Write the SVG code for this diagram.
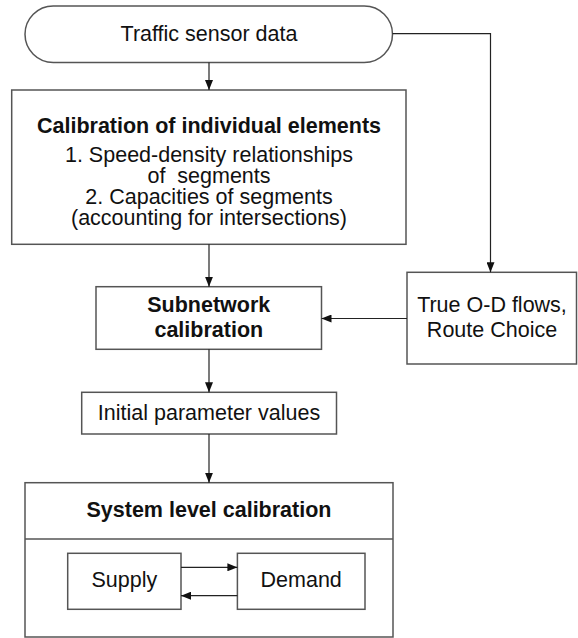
<svg xmlns="http://www.w3.org/2000/svg" width="578" height="638" viewBox="0 0 578 638">
  <style>
    .box { fill: #ffffff; stroke: #555555; stroke-width: 1.5; }
    .edge { fill: none; stroke: #222222; stroke-width: 1.2; }
    text { font-family: "Liberation Sans", Arial, sans-serif; font-size: 21.5px; fill: #111111; text-anchor: middle; }
    .b { font-weight: bold; }
  </style>
  <defs>
    <marker id="arrow" viewBox="0 0 10 8" refX="10" refY="4" markerWidth="10" markerHeight="8" markerUnits="userSpaceOnUse" orient="auto">
      <path d="M0,0 L10,4 L0,8 Z" fill="#111111"/>
    </marker>
  </defs>
  <rect width="578" height="638" fill="#ffffff"/>

  <g id="sensor-data">
    <rect class="box" x="25" y="6" width="367.5" height="56.5" rx="28.25" ry="28.25"/>
    <text x="209" y="41">Traffic sensor data</text>
  </g>

  <g id="individual-elements">
    <rect class="box" x="11.7" y="90" width="394.3" height="154.3"/>
    <text class="b" x="209" y="133">Calibration of individual elements</text>
    <text x="209" y="162">1. Speed-density relationships</text>
    <text x="209" y="183" xml:space="preserve">of  segments</text>
    <text x="209" y="204">2. Capacities of segments</text>
    <text x="209" y="225">(accounting for intersections)</text>
  </g>

  <g id="od-route">
    <rect class="box" x="407" y="272.3" width="169.5" height="91.7"/>
    <text x="492" y="311.7">True O-D flows,</text>
    <text x="492" y="336.7">Route Choice</text>
  </g>

  <g id="subnetwork">
    <rect class="box" x="96" y="286.7" width="225.5" height="62.6"/>
    <text class="b" x="208.8" y="311.7">Subnetwork</text>
    <text class="b" x="208.8" y="336.7">calibration</text>
  </g>

  <g id="initial-values">
    <rect class="box" x="81.7" y="392.3" width="254.8" height="41.7"/>
    <text x="209" y="420">Initial parameter values</text>
  </g>

  <g id="system-level">
    <rect class="box" x="25" y="482.7" width="368" height="154.3"/>
    <line class="box" x1="25" y1="539" x2="393" y2="539"/>
    <text class="b" x="209" y="517.3">System level calibration</text>
  </g>

  <g id="supply">
    <rect class="box" x="67.7" y="553.3" width="113.3" height="56"/>
    <text x="124.4" y="587">Supply</text>
  </g>

  <g id="demand">
    <rect class="box" x="237.4" y="553.3" width="127.6" height="56"/>
    <text x="301.2" y="587">Demand</text>
  </g>

  <g id="connectors">
    <line class="edge" x1="209" y1="62.5" x2="209" y2="90" marker-end="url(#arrow)"/>
    <polyline class="edge" points="392.5,33.7 490.5,33.7 490.5,272.3" marker-end="url(#arrow)"/>
    <line class="edge" x1="209" y1="244.3" x2="209" y2="286.7" marker-end="url(#arrow)"/>
    <line class="edge" x1="407" y1="318.5" x2="321.5" y2="318.5" marker-end="url(#arrow)"/>
    <line class="edge" x1="209" y1="349.3" x2="209" y2="392.3" marker-end="url(#arrow)"/>
    <line class="edge" x1="209" y1="434" x2="209" y2="482.7" marker-end="url(#arrow)"/>
    <line class="edge" x1="181" y1="567.3" x2="237.4" y2="567.3" marker-end="url(#arrow)"/>
    <line class="edge" x1="237.4" y1="595.7" x2="181" y2="595.7" marker-end="url(#arrow)"/>
  </g>
</svg>
